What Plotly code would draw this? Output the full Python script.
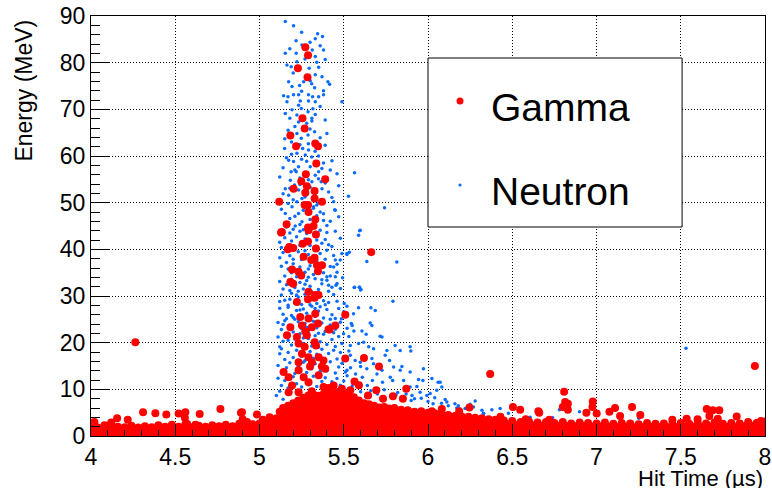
import plotly.graph_objects as go

# Hit time (us), energy (MeV) pairs
neutron_hits = [
    (5.153, 88.8), (5.202, 87.9), (5.345, 86.2), (5.374, 85.6), (5.331, 85.1), (5.217, 84.7),
    (5.252, 83.8), (5.313, 82.7), (5.360, 83.6), (5.380, 82.7), (5.218, 82.0), (5.153, 82.0),
    (5.331, 81.3), (5.390, 80.7), (5.222, 80.2), (5.163, 79.5), (5.188, 79.1), (5.351, 79.0),
    (5.295, 78.8), (5.331, 77.4), (5.371, 77.0), (5.173, 75.9), (5.238, 75.1), (5.262, 75.9),
    (5.301, 76.1), (5.406, 75.9), (5.416, 75.4), (5.327, 74.6), (5.380, 74.0), (5.193, 74.9),
    (5.143, 72.9), (5.169, 72.7), (5.202, 73.1), (5.232, 73.1), (5.291, 73.1), (5.315, 72.7),
    (5.351, 72.7), (5.380, 73.1), (5.163, 71.6), (5.242, 71.8), (5.331, 71.6), (5.291, 71.8),
    (5.232, 70.9), (5.489, 71.6), (5.193, 69.9), (5.248, 70.2), (5.317, 70.1), (5.153, 69.1),
    (5.288, 69.5), (5.331, 68.9), (5.390, 67.7), (5.222, 68.8), (5.311, 68.1),
    (5.25, 86.5), (5.30, 84.4), (5.18, 83.0), (5.27, 80.8), (5.34, 80.1), (5.20, 77.8),
    (5.31, 75.5), (5.25, 73.9), (5.36, 70.6), (5.18, 68.1), (5.28, 67.0),
    (5.232, 67.3), (5.311, 67.5), (5.222, 64.8), (5.248, 63.8), (5.288, 64.5), (5.327, 65.2),
    (5.400, 64.8), (5.149, 61.6), (5.256, 61.6), (5.291, 61.3), (5.222, 60.6), (5.272, 60.2),
    (5.173, 59.1), (5.202, 58.8), (5.380, 58.5), (5.232, 57.7), (5.301, 57.7), (5.564, 56.4),
    (5.188, 56.6), (5.218, 56.6), (5.331, 55.9), (5.351, 56.6), (5.183, 54.8), (5.208, 53.8),
    (5.311, 54.5), (5.366, 54.5), (5.153, 53.0), (5.232, 52.7), (5.371, 53.0), (5.410, 52.3),
    (5.173, 51.6), (5.252, 50.9), (5.222, 50.2), (5.440, 50.2), (5.528, 51.4), (5.193, 49.1),
    (5.321, 49.1), (5.153, 47.7), (5.232, 47.7), (5.360, 48.0), (5.450, 48.4), (5.252, 45.9),
    (5.212, 45.0), (5.380, 46.2), (5.742, 48.9), (5.594, 44.0), (5.588, 43.0), (5.446, 48.5),
    (5.26, 66.0), (5.19, 63.0), (5.35, 60.0), (5.28, 58.9), (5.14, 57.5), (5.42, 57.0),
    (5.30, 53.3), (5.27, 51.2), (5.34, 47.2), (5.18, 46.6), (5.40, 45.1), (5.29, 62.6), (5.24, 55.3),
    (5.17, 65.5), (5.21, 66.3), (5.30, 65.8), (5.36, 63.9), (5.24, 62.4), (5.15, 63.7),
    (5.33, 61.0), (5.39, 62.3), (5.19, 60.4),
    (5.16, 59.6), (5.25, 59.3), (5.31, 59.8), (5.37, 57.3), (5.43, 59.0), (5.21, 57.0),
    (5.27, 56.0), (5.12, 55.5), (5.35, 55.1), (5.46, 56.2),
    (5.14, 51.9), (5.18, 53.1), (5.24, 53.9), (5.29, 54.9), (5.33, 51.5), (5.39, 54.2),
    (5.43, 51.1), (5.20, 50.6), (5.26, 52.4), (5.35, 50.0), (5.47, 53.6),
    (5.13, 48.6), (5.17, 49.8), (5.21, 47.1), (5.26, 48.4), (5.30, 46.4), (5.34, 49.5),
    (5.38, 47.6), (5.42, 46.0), (5.15, 45.6), (5.24, 45.3), (5.47, 47.0), (5.32, 48.8),
    (5.637, 37.4), (5.815, 37.3), (5.564, 31.9), (5.594, 31.9), (5.602, 31.4), (5.479, 37.7),
    (5.519, 39.1), (5.450, 37.7), (5.400, 34.1), (5.410, 32.3), (5.460, 32.7), (5.598, 44.1),
    (5.489, 39.1), (5.533, 39.4), (5.519, 38.9), (5.440, 36.2), (5.460, 35.1), (5.493, 33.9),
    (5.420, 34.3), (5.454, 32.3),
    (5.18, 43.5), (5.26, 44.2), (5.33, 42.9), (5.39, 42.1), (5.45, 43.9), (5.12, 41.5),
    (5.24, 40.9), (5.41, 41.0), (5.48, 42.4), (5.28, 43.4),
    (5.12, 38.2), (5.20, 37.9), (5.27, 39.7), (5.33, 38.5), (5.40, 39.8), (5.46, 36.8),
    (5.19, 35.0), (5.24, 34.4), (5.37, 33.5), (5.45, 34.1), (5.14, 31.5), (5.22, 30.2),
    (5.34, 30.6), (5.41, 31.0), (5.48, 31.6), (5.29, 35.8),
    (5.12, 28.8), (5.18, 29.3), (5.24, 27.0), (5.33, 27.3), (5.39, 28.1), (5.45, 25.2),
    (5.50, 26.6), (5.14, 23.9), (5.20, 25.4), (5.28, 23.3), (5.35, 22.0), (5.42, 25.0),
    (5.53, 21.3), (5.17, 20.5), (5.26, 21.0), (5.44, 22.1),
    (5.16, 44.8), (5.20, 44.3), (5.24, 43.9), (5.31, 44.6), (5.36, 44.1), (5.40, 43.6), (5.14, 43.2),
    (5.15, 42.5), (5.19, 41.8), (5.22, 42.7), (5.27, 42.2), (5.30, 40.8), (5.34, 42.0), (5.37, 41.3),
    (5.43, 40.6), (5.13, 40.4), (5.21, 40.1),
    (5.14, 39.3), (5.18, 38.6), (5.23, 39.5), (5.25, 37.8), (5.29, 38.9), (5.31, 37.4), (5.36, 39.1),
    (5.39, 37.9), (5.44, 38.7), (5.16, 37.2), (5.34, 37.6),
    (5.13, 36.4), (5.17, 35.8), (5.20, 36.9), (5.24, 36.2), (5.27, 35.1), (5.30, 36.5), (5.32, 34.6),
    (5.35, 36.0), (5.38, 35.0), (5.42, 36.3), (5.15, 34.3), (5.22, 34.1), (5.26, 34.9), (5.29, 34.0),
    (5.12, 33.1), (5.16, 32.4), (5.19, 33.6), (5.21, 31.8), (5.24, 32.9), (5.26, 31.5), (5.28, 33.3),
    (5.30, 32.1), (5.33, 33.7), (5.35, 31.4), (5.37, 32.6), (5.40, 33.4), (5.43, 31.9), (5.18, 31.2),
    (5.23, 31.0), (5.27, 32.5), (5.31, 30.9),
    (5.13, 30.2), (5.15, 29.1), (5.19, 30.6), (5.21, 28.5), (5.23, 29.8), (5.25, 28.2), (5.27, 30.4),
    (5.29, 28.8), (5.32, 29.5), (5.34, 28.4), (5.36, 30.1), (5.38, 29.0), (5.41, 28.6), (5.44, 30.3),
    (5.17, 28.0), (5.30, 28.1), (5.46, 28.9),
    (5.12, 27.4), (5.14, 26.1), (5.17, 27.6), (5.19, 25.8), (5.22, 26.9), (5.24, 25.4), (5.26, 27.2),
    (5.28, 26.3), (5.31, 27.8), (5.33, 25.6), (5.35, 26.8), (5.38, 25.3), (5.40, 27.1), (5.43, 26.0),
    (5.47, 27.3), (5.16, 25.1), (5.21, 25.0), (5.30, 25.2), (5.36, 27.7),
    (5.11, 24.3), (5.13, 22.8), (5.15, 24.7), (5.18, 23.4), (5.20, 22.3), (5.23, 24.5), (5.25, 23.0),
    (5.27, 24.1), (5.29, 22.6), (5.32, 24.6), (5.34, 23.2), (5.37, 24.2), (5.39, 22.4), (5.42, 23.8),
    (5.45, 22.9), (5.48, 24.4), (5.52, 23.1), (5.56, 22.5),
    (5.562, 31.8), (5.592, 31.9), (5.600, 31.3), (5.792, 28.9), (5.503, 28.4), (5.519, 27.8),
    (5.588, 27.5), (5.661, 27.5), (5.687, 26.9), (5.558, 26.2), (5.486, 25.1), (5.657, 24.2),
    (5.667, 23.7), (5.545, 24.1), (5.550, 23.7), (5.608, 22.5), (5.633, 21.8), (5.716, 21.4),
    (5.499, 21.9), (5.727, 21.2), (5.489, 19.8), (5.539, 19.4), (5.588, 19.8), (5.618, 20.1),
    (5.648, 19.1), (5.677, 18.7), (5.756, 18.3), (5.805, 19.4), (5.894, 19.1), (5.898, 18.2),
    (5.835, 18.3), (5.539, 17.3), (5.568, 16.2), (5.598, 15.8), (5.667, 16.6), (5.677, 15.5),
    (5.746, 17.3), (5.772, 16.2), (5.796, 14.8), (5.835, 14.1), (5.845, 14.9), (5.894, 13.7),
    (5.973, 14.4), (5.944, 12.1), (5.727, 14.1), (5.697, 13.3), (5.637, 14.4), (5.519, 14.1),
    (5.776, 12.6), (5.790, 11.9), (5.855, 11.9), (5.730, 11.5), (5.894, 10.5), (5.934, 10.6),
    (5.953, 9.4), (5.993, 8.7), (6.013, 9.1), (6.072, 11.5), (6.052, 9.8), (6.082, 10.5),
    (6.102, 7.8), (6.112, 7.3), (6.171, 6.0), (6.180, 6.5), (6.280, 7.5), (6.320, 5.5),
    (5.905, 8.7), (5.920, 8.0), (5.970, 11.9), (6.023, 12.3), (5.810, 8.8), (6.040, 8.2),
    (6.060, 11.5), (6.190, 5.8), (6.270, 6.2), (6.330, 4.8),
    (6.329, 4.9), (6.379, 5.6), (6.428, 5.9), (6.477, 4.9), (6.780, 5.6), (6.899, 5.2),
    (6.740, 3.9), (7.251, 3.8), (6.606, 4.0), (7.531, 18.8),
    (5.11, 21.2), (5.14, 20.3), (5.16, 21.7), (5.19, 19.5), (5.21, 20.8), (5.24, 21.9), (5.26, 19.8),
    (5.29, 20.9), (5.31, 19.3), (5.33, 21.5), (5.36, 20.2), (5.38, 21.8), (5.40, 19.6), (5.43, 20.7),
    (5.45, 19.2), (5.47, 21.3), (5.12, 19.1), (5.35, 19.0),
    (5.12, 17.6), (5.13, 18.7), (5.15, 16.4), (5.17, 17.9), (5.20, 16.8), (5.22, 18.4), (5.25, 17.1),
    (5.27, 16.2), (5.30, 18.1), (5.32, 16.6), (5.34, 17.5), (5.37, 18.6), (5.39, 16.3), (5.41, 17.7),
    (5.44, 18.4), (5.46, 16.5), (5.48, 17.9), (5.50, 16.9), (5.53, 18.2),
    (5.11, 15.1), (5.13, 13.8), (5.16, 14.6), (5.18, 15.7), (5.21, 13.4), (5.23, 14.9), (5.26, 15.8),
    (5.28, 13.6), (5.31, 14.4), (5.33, 15.5), (5.36, 13.9), (5.38, 15.2), (5.40, 14.0), (5.42, 15.9),
    (5.45, 13.5), (5.47, 14.8), (5.49, 15.6), (5.51, 13.7), (5.54, 14.6), (5.57, 13.3), (5.60, 14.9),
    (5.11, 12.4), (5.13, 10.8), (5.15, 11.9), (5.17, 10.3), (5.20, 12.7), (5.22, 11.2), (5.25, 10.5),
    (5.27, 12.2), (5.29, 11.0), (5.32, 12.8), (5.34, 10.6), (5.37, 11.7), (5.39, 12.5), (5.41, 10.4),
    (5.43, 11.6), (5.46, 12.3), (5.48, 10.9), (5.50, 11.8), (5.52, 12.9), (5.55, 10.7), (5.58, 11.5),
    (5.61, 12.6), (5.64, 10.8), (5.67, 11.9),
    (5.10, 8.7), (5.12, 9.6), (5.14, 7.9), (5.60, 9.5), (5.63, 8.4), (5.66, 9.7), (5.70, 9.0),
    (5.74, 9.9), (5.78, 8.6), (5.82, 9.3), (5.87, 9.0), (5.90, 7.6), (5.96, 8.1), (6.00, 7.4),
    (6.03, 6.9), (6.08, 7.0), (6.12, 6.5), (6.16, 6.9), (6.22, 5.9), (6.25, 6.8),
]

gamma_hits = [
    (5.272, 83.3), (5.288, 81.6), (5.228, 78.8), (5.285, 76.9), (5.255, 68.1),
    (5.268, 65.9), (5.183, 64.4), (5.331, 62.7), (5.347, 62.1), (5.217, 62.1), (5.337, 58.4),
    (5.275, 56.1), (5.390, 55.0), (5.248, 54.6), (5.281, 53.5), (5.327, 52.5), (5.202, 53.0),
    (5.272, 52.1), (5.117, 50.2), (5.327, 50.9), (5.371, 50.2), (5.268, 49.5), (5.288, 49.5),
    (5.291, 48.0), (5.331, 46.4), (5.161, 45.4), (5.288, 44.7), (5.321, 45.0), (5.128, 43.6),
    (5.291, 44.1), (5.335, 43.2), (5.663, 39.4),
    (5.133, 43.7), (5.177, 40.5), (5.168, 40.0), (5.200, 40.3), (5.256, 41.2), (5.288, 41.7),
    (5.335, 40.2), (5.262, 38.4), (5.327, 38.2), (5.307, 37.7), (5.371, 36.6), (5.341, 36.6),
    (5.193, 35.7), (5.232, 35.2), (5.248, 34.4), (5.347, 35.3), (5.183, 33.0), (5.200, 32.6),
    (5.291, 30.9), (5.331, 30.2), (5.350, 30.2), (5.222, 28.7), (5.288, 29.3), (5.327, 29.6),
    (5.509, 26.0), (5.242, 25.5), (5.291, 25.2), (5.331, 26.2), (5.347, 24.1), (5.183, 23.3),
    (5.252, 23.7), (5.450, 23.7), (5.410, 22.9), (5.272, 22.4), (5.416, 22.8),
    (5.311, 23.3), (5.163, 21.6), (5.222, 21.2), (5.281, 21.6), (5.327, 20.1), (5.509, 16.6),
    (5.232, 19.8), (5.268, 19.1), (5.335, 19.4), (5.252, 17.6), (5.291, 16.9), (5.351, 16.9),
    (5.232, 15.8), (5.311, 15.8), (5.380, 16.2), (5.143, 13.7), (5.232, 14.1), (5.300, 14.9),
    (5.390, 14.4), (5.173, 12.6), (5.262, 12.6), (5.351, 13.0), (5.193, 10.8), (5.291, 11.5),
    (5.380, 10.5), (5.440, 10.8), (5.173, 9.4), (5.232, 9.4), (5.310, 9.6), (5.410, 10.3),
    (5.489, 10.1), (5.539, 9.8), (5.620, 16.7), (5.709, 14.9), (5.370, 14.9),
    (5.564, 11.7), (5.590, 10.9), (5.871, 10.1), (5.693, 9.8), (5.792, 8.5), (5.851, 8.0),
    (5.733, 8.0), (5.644, 8.7), (6.369, 13.3), (6.246, 6.1), (6.082, 5.8), (6.185, 5.3),
    (6.023, 5.3), (4.896, 5.1), (4.985, 4.6), (5.060, 4.0), (4.926, 3.0), (5.020, 3.5),
    (4.263, 20.1), (4.309, 5.1), (4.382, 4.9), (4.447, 4.6), (4.520, 4.8), (4.560, 5.1),
    (4.557, 3.9), (4.645, 4.7), (4.768, 5.8), (4.890, 5.0), (4.900, 3.6), (4.155, 3.8),
    (4.218, 3.5), (4.020, 3.0), (4.120, 2.9), (4.570, 2.6), (4.620, 2.4),
    (6.808, 9.5), (6.814, 7.3), (6.830, 6.9), (6.800, 6.2), (6.830, 5.6), (6.978, 7.4),
    (6.976, 6.2), (7.001, 4.8), (6.940, 5.0), (7.077, 5.2), (7.110, 6.0), (7.140, 4.3),
    (7.211, 6.2), (7.260, 4.5), (7.450, 3.5), (7.535, 3.7), (7.600, 3.6), (7.654, 5.8),
    (7.690, 5.5), (7.729, 5.5), (7.670, 4.3), (7.720, 3.7), (7.832, 4.2), (7.940, 15.0),
    (7.976, 3.2), (6.504, 6.2), (6.547, 5.6), (6.655, 5.3), (6.660, 5.0), (6.430, 4.1),
    (6.580, 3.6), (6.720, 3.5),
]

# upper edge of the saturated low-energy gamma band
gamma_band_edge = [
    (4.00, 2.1), (4.04, 1.8), (4.08, 2.3), (4.12, 2.7), (4.16, 2.0), (4.20, 1.9), (4.24, 2.2),
    (4.28, 1.8), (4.32, 2.1), (4.36, 1.9), (4.40, 2.3), (4.44, 2.0), (4.48, 2.4), (4.52, 2.0),
    (4.56, 2.5), (4.60, 1.9), (4.64, 2.2), (4.68, 2.0), (4.72, 2.3), (4.76, 2.1), (4.80, 2.4),
    (4.84, 2.1), (4.88, 2.6), (4.92, 2.2), (4.96, 2.5), (5.00, 2.7), (5.04, 2.9), (5.08, 3.2),
    (5.10, 3.8), (5.12, 5.2), (5.14, 6.0), (5.17, 6.5), (5.20, 7.0), (5.23, 7.6), (5.26, 8.2),
    (5.29, 8.7), (5.32, 8.9), (5.35, 8.6), (5.38, 9.0), (5.41, 9.4), (5.44, 9.2), (5.47, 9.5),
    (5.50, 9.1), (5.53, 8.8), (5.56, 8.3), (5.59, 7.6), (5.62, 7.0), (5.65, 6.8), (5.68, 6.5),
    (5.71, 6.1), (5.74, 6.2), (5.77, 5.9), (5.80, 6.0), (5.84, 5.6), (5.88, 5.5), (5.92, 5.2),
    (5.96, 5.3), (6.00, 5.0), (6.04, 4.9), (6.08, 4.7), (6.12, 4.5), (6.16, 4.3), (6.20, 4.2),
    (6.24, 4.1), (6.28, 3.9), (6.32, 3.8), (6.36, 3.6), (6.40, 3.5), (6.45, 3.3), (6.50, 3.2),
    (6.55, 3.0), (6.60, 3.1), (6.65, 2.9), (6.70, 3.0), (6.75, 2.8), (6.80, 3.0), (6.85, 2.7),
    (6.90, 2.9), (6.95, 2.8), (7.00, 2.7), (7.05, 2.9), (7.10, 2.6), (7.15, 2.8), (7.20, 2.7),
    (7.25, 2.5), (7.30, 2.8), (7.35, 2.6), (7.40, 2.7), (7.45, 2.5), (7.50, 2.8), (7.55, 2.6),
    (7.60, 2.8), (7.65, 2.7), (7.70, 2.9), (7.75, 2.6), (7.80, 2.8), (7.85, 2.7), (7.90, 3.0),
    (7.95, 2.8), (8.00, 3.1),
]

RED = "#ff0000"
BLUE = "#0a6cff"
FONT = "Liberation Sans, Arial, sans-serif"

fig = go.Figure()

fig.add_trace(go.Scatter(
    x=[p[0] for p in neutron_hits], y=[p[1] for p in neutron_hits],
    mode="markers", marker=dict(color=BLUE, size=3.5, line=dict(width=0)),
    showlegend=False, name="Neutron",
))
fig.add_trace(go.Scatter(
    x=[p[0] for p in gamma_band_edge], y=[p[1] for p in gamma_band_edge],
    mode="lines+markers", fill="tozeroy", fillcolor=RED,
    line=dict(color=RED, width=1), marker=dict(color=RED, size=8, line=dict(width=0)),
    showlegend=False, name="Gamma",
))
fig.add_trace(go.Scatter(
    x=[p[0] for p in gamma_hits], y=[p[1] for p in gamma_hits],
    mode="markers", marker=dict(color=RED, size=8, line=dict(width=0)),
    showlegend=False, name="Gamma",
))

axis_common = dict(
    showline=True, linecolor="black", linewidth=1, mirror=True, automargin=False,
    ticks="inside", tickcolor="black", tickwidth=1,
    showgrid=True, gridcolor="black", gridwidth=1, griddash="1px,2px",
    zeroline=False, tickfont=dict(family=FONT, size=23, color="black"),
)

fig.update_layout(
    width=772, height=488,
    margin=dict(l=91, r=7, t=16, b=52),
    plot_bgcolor="white", paper_bgcolor="white",
    xaxis=dict(range=[4, 8], dtick=0.5, ticklen=12,
               minor=dict(dtick=0.1, ticklen=6, ticks="inside", tickcolor="black", showgrid=False),
               **axis_common),
    yaxis=dict(range=[0, 90], dtick=10, ticklen=18,
               minor=dict(dtick=2, ticklen=9, ticks="inside", tickcolor="black", showgrid=False),
               **axis_common),
)

# axis titles, ROOT style (right / top aligned)
fig.add_annotation(text="Hit Time (µs)", xref="paper", yref="paper", x=1, y=-0.1,
                   xanchor="right", yanchor="middle", showarrow=False,
                   font=dict(family=FONT, size=22, color="black"))
fig.add_annotation(text="Energy (MeV)", xref="paper", yref="paper", x=-0.1, y=1,
                   xanchor="center", yanchor="top", yshift=-2, textangle=-90, showarrow=False,
                   font=dict(family=FONT, size=23, color="black"))

# legend box
fig.add_shape(type="rect", xref="paper", yref="paper", x0=0.5, x1=0.877, y0=0.4976, y1=0.9,
              line=dict(color="black", width=1), fillcolor="white", layer="above")
fig.add_shape(type="circle", xref="paper", yref="paper", xsizemode="pixel", ysizemode="pixel",
              xanchor=0.5475, yanchor=0.7976, x0=-3.5, x1=3.5, y0=-3.5, y1=3.5,
              fillcolor=RED, line=dict(width=0), layer="above")
fig.add_shape(type="circle", xref="paper", yref="paper", xsizemode="pixel", ysizemode="pixel",
              xanchor=0.5475, yanchor=0.5976, x0=-1.6, x1=1.6, y0=-1.6, y1=1.6,
              fillcolor=BLUE, line=dict(width=0), layer="above")
fig.add_annotation(text="Gamma", xref="paper", yref="paper", x=0.59, y=0.781,
                   xanchor="left", yanchor="middle", showarrow=False,
                   font=dict(family=FONT, size=39, color="black"))
fig.add_annotation(text="Neutron", xref="paper", yref="paper", x=0.59, y=0.583,
                   xanchor="left", yanchor="middle", showarrow=False,
                   font=dict(family=FONT, size=39, color="black"))

# drop the default page margin so the figure sits at the window's corner
fig.write_html("out.html", config={"displayModeBar": False},
               post_script="document.body.style.margin='0';")
